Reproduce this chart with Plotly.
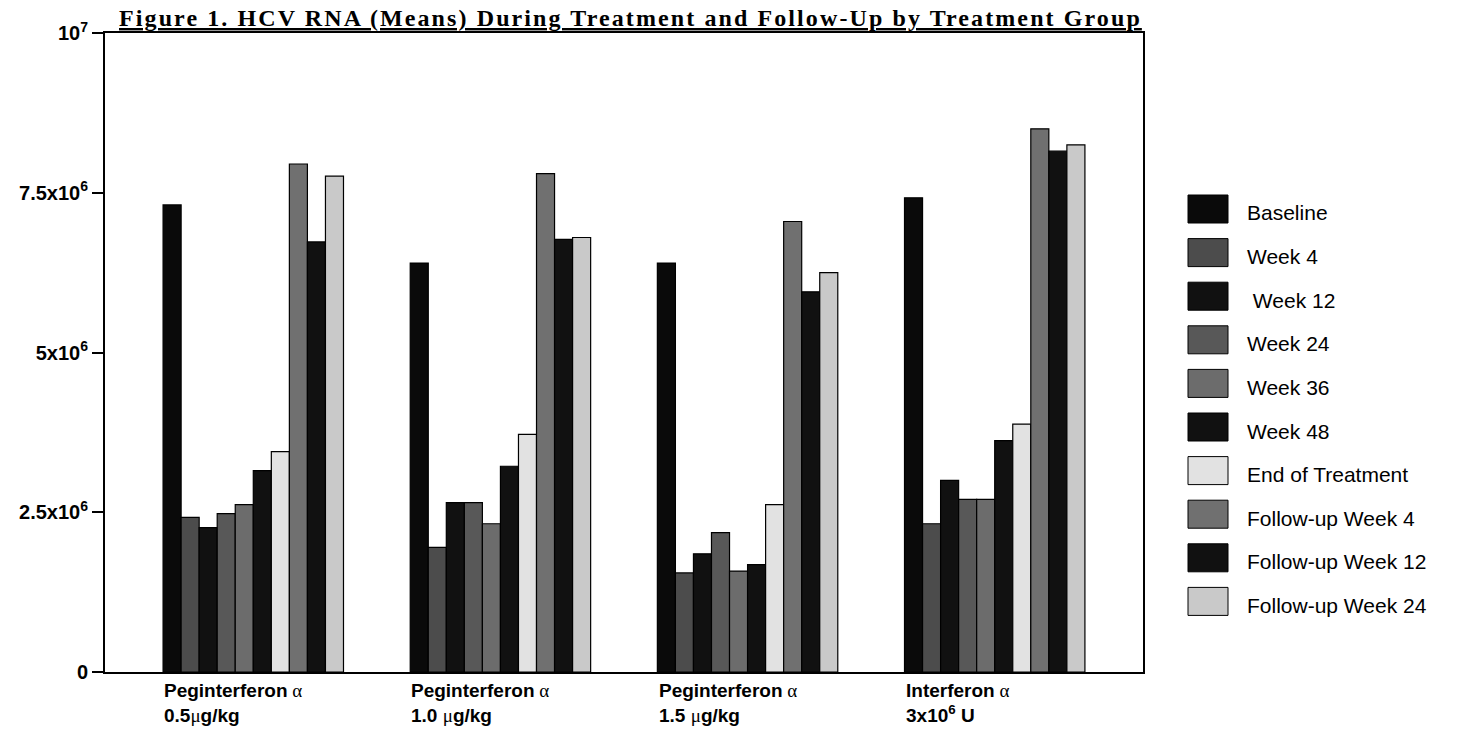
import plotly.graph_objects as go

groups = ["Peginterferon α 0.5μg/kg", "Peginterferon α 1.0 μg/kg",
          "Peginterferon α 1.5 μg/kg", "Interferon α 3x10⁶ U"]
group_line1 = ["Peginterferon", "Peginterferon", "Peginterferon", "Interferon"]
group_line2 = ["0.5<span style='font-family:Liberation Serif;font-weight:normal'>μ</span>g/kg",
               "1.0 <span style='font-family:Liberation Serif;font-weight:normal'>μ</span>g/kg",
               "1.5 <span style='font-family:Liberation Serif;font-weight:normal'>μ</span>g/kg",
               "3x10<sup>6</sup> U"]

series_names = ["Baseline", "Week 4", " Week 12", "Week 24", "Week 36", "Week 48",
                "End of Treatment", "Follow-up Week 4", "Follow-up Week 12", "Follow-up Week 24"]
series_colors = ["#0a0a0a", "#4c4c4c", "#111111", "#585858", "#6c6c6c", "#111111",
                 "#e2e2e2", "#707070", "#111111", "#c9c9c9"]

baseline = [7.31e6, 6.40e6, 6.40e6, 7.42e6]
week4 = [2.42e6, 1.95e6, 1.55e6, 2.32e6]
week12 = [2.26e6, 2.65e6, 1.85e6, 3.00e6]
week24 = [2.48e6, 2.65e6, 2.18e6, 2.70e6]
week36 = [2.62e6, 2.32e6, 1.58e6, 2.70e6]
week48 = [3.15e6, 3.22e6, 1.68e6, 3.62e6]
end_of_treatment = [3.45e6, 3.72e6, 2.62e6, 3.88e6]
fu_week4 = [7.95e6, 7.80e6, 7.05e6, 8.50e6]
fu_week12 = [6.73e6, 6.77e6, 5.95e6, 8.15e6]
fu_week24 = [7.76e6, 6.80e6, 6.25e6, 8.25e6]

series_values = [baseline, week4, week12, week24, week36, week48,
                 end_of_treatment, fu_week4, fu_week12, fu_week24]

y_tickvals = [0, 2.5e6, 5e6, 7.5e6, 1e7]
y_ticktext = ["0", "2.5x10<sup>6</sup>", "5x10<sup>6</sup>", "7.5x10<sup>6</sup>", "10<sup>7</sup>"]

title_text = "Figure 1. HCV RNA (Means) During Treatment and Follow-Up by Treatment Group"

FONT = "Arial, Liberation Sans, sans-serif"

fig = go.Figure()
for name, color, vals in zip(series_names, series_colors, series_values):
    fig.add_trace(go.Bar(
        x=groups, y=vals, name=name, showlegend=False,
        marker=dict(color=color, line=dict(color="#000000", width=1.2)),
    ))

# plot area in page pixels: x 105..1143, y 33..672 (body margin removed below)
PL, PR, PT, PB = 105, 1143, 33, 672
W, H = 1457, 733
fig.update_layout(
    width=W, height=H,
    margin=dict(l=PL, r=W - PR, t=PT, b=H - PB),
    paper_bgcolor="white", plot_bgcolor="white",
    barmode="group", bargap=0.27, bargroupgap=0,
    font=dict(family=FONT, color="black"),
    showlegend=False,
)

fig.update_xaxes(
    range=[-0.6, 3.6], showticklabels=False, ticks="",
    showline=True, linecolor="black", linewidth=2, mirror=True,
    showgrid=False, zeroline=False,
)
fig.update_yaxes(
    range=[0, 1e7], tickvals=y_tickvals, ticktext=y_ticktext,
    ticks="outside", ticklen=11, tickwidth=2, tickcolor="black",
    tickfont=dict(size=20, family=FONT, color="black", weight="bold"),
    showline=True, linecolor="black", linewidth=2, mirror=True,
    showgrid=False, zeroline=False,
)

def px_to_paper_x(px):
    return (px - PL) / (PR - PL)

def px_to_paper_y(py):
    return (PB - py) / (PB - PT)

# custom legend with large swatches
for i, (name, color) in enumerate(zip(series_names, series_colors)):
    cy = 209 + i * 43.6
    fig.add_shape(
        type="rect", xref="paper", yref="paper",
        x0=px_to_paper_x(1188), x1=px_to_paper_x(1228),
        y0=px_to_paper_y(cy + 14), y1=px_to_paper_y(cy - 14),
        fillcolor=color, line=dict(color="#000000", width=1),
    )
    fig.add_annotation(
        x=px_to_paper_x(1245), xref="paper", y=px_to_paper_y(cy + 4), yref="paper",
        xanchor="left", yanchor="middle", showarrow=False, text=name,
        font=dict(size=21, family=FONT, color="black"),
    )

alpha = "<span style='font-family:Liberation Serif;font-weight:normal'> α</span>"
for g, l1, l2 in zip(groups, group_line1, group_line2):
    fig.add_annotation(
        x=g, xref="x", y=0, yref="paper", yanchor="top", yshift=-6,
        xanchor="left", xshift=-91, align="left", showarrow=False,
        text="<b>" + l1 + "</b>" + alpha + "<br><b>" + l2 + "</b>",
        font=dict(size=19, family=FONT, color="black"),
    )

fig.add_annotation(
    x=px_to_paper_x(117), xref="paper", y=1, yref="paper", yanchor="bottom", xanchor="left",
    yshift=0, showarrow=False,
    text="<span style='letter-spacing:2.1px'><b><u>" + title_text + "</u></b></span>",
    font=dict(size=24, family="Liberation Serif, Times New Roman, serif", color="black"),
)

fig.write_html("out.html", config={"displayModeBar": False},
               post_script="document.body.style.margin='0';")
